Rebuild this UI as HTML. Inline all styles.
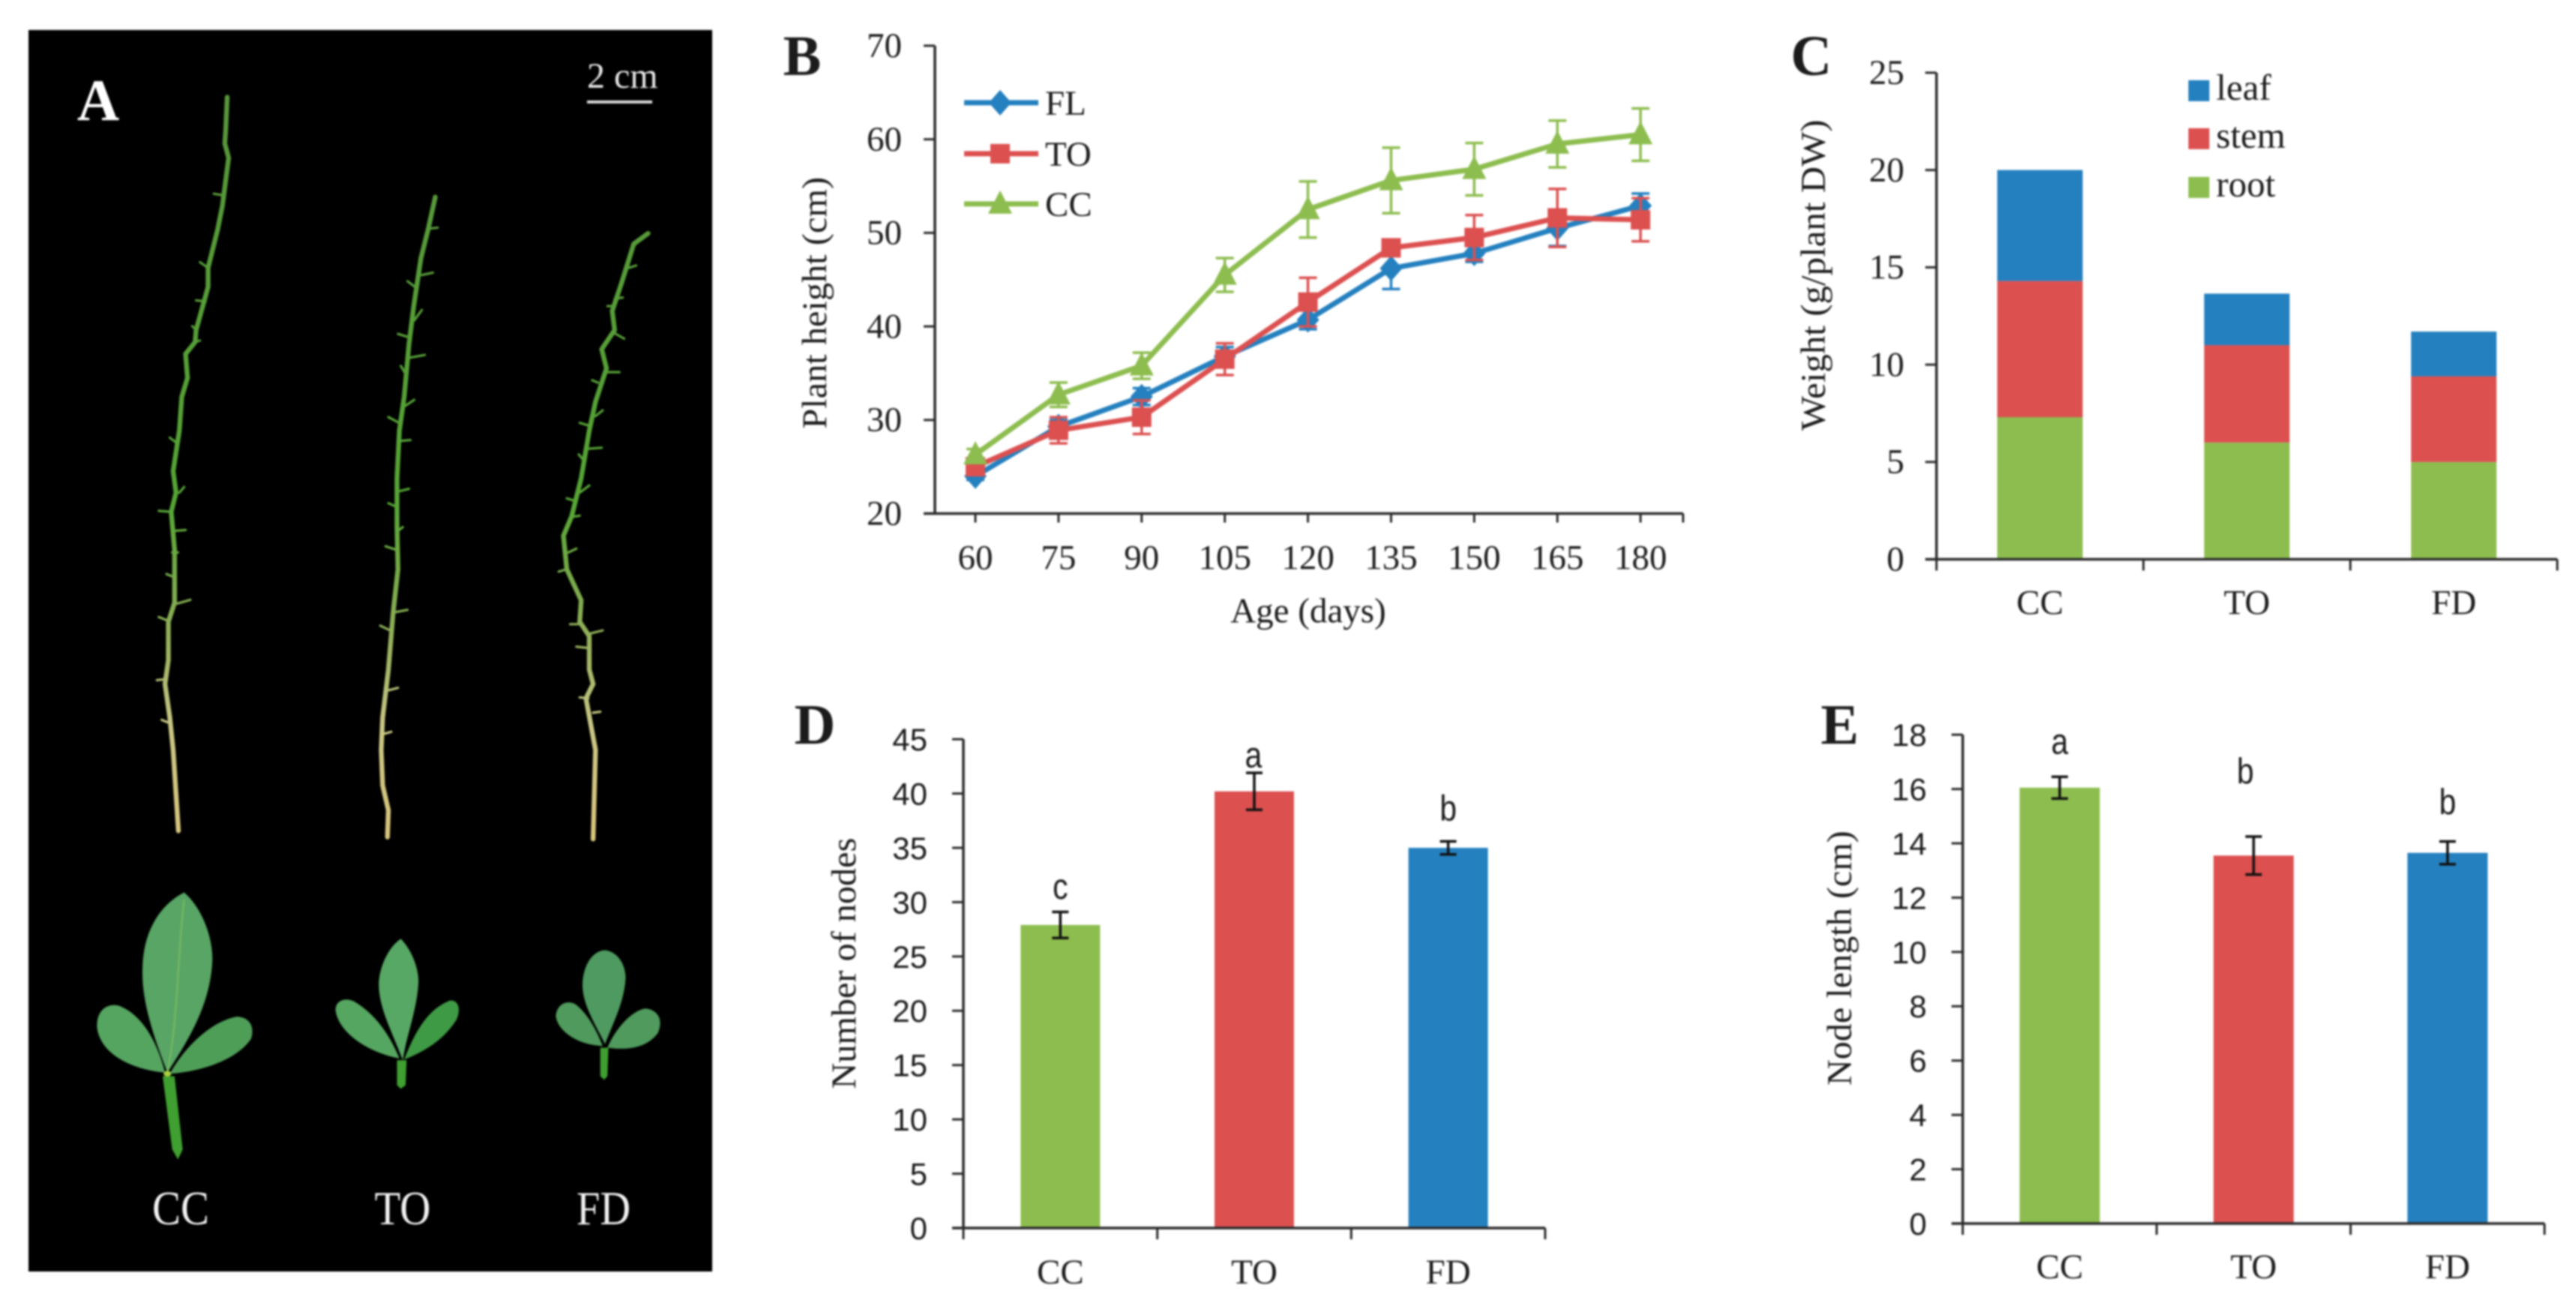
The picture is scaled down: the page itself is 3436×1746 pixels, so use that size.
<!DOCTYPE html>
<html lang="en">
<head>
<meta charset="utf-8">
<title>Plant phenotype figure</title>
<style>
  html, body { margin: 0; padding: 0; background: #fff; }
  svg { display: block; filter: blur(1.2px); }
  text { font-family: "Liberation Serif", serif; fill: #1c1c1c; }
  .sans { font-family: "Liberation Sans", sans-serif; }
</style>
</head>
<body>
<svg id="figure" xmlns="http://www.w3.org/2000/svg" width="3436" height="1746" viewBox="0 0 3436 1746">
  <defs>
    <linearGradient id="stemShade" gradientUnits="userSpaceOnUse" x1="0" y1="200" x2="0" y2="1750">
      <stop offset="0" stop-color="#58953c"/>
      <stop offset="0.55" stop-color="#55a535"/>
      <stop offset="0.72" stop-color="#8fae58"/>
      <stop offset="0.85" stop-color="#c9c685"/>
      <stop offset="1" stop-color="#d8c47c"/>
    </linearGradient>
  </defs>
  <rect width="3436" height="1746" fill="#fff"/>

  <g>
    <rect x="38" y="40" width="912" height="1656" fill="#000"/>
    <text x="131" y="160" font-size="78" font-weight="bold" text-anchor="middle" style="fill:#fff">A</text>
    <text x="783" y="117" font-size="48" style="fill:#e8e8e8">2 cm</text>
    <rect x="783" y="134" width="87" height="4" fill="#dcdcdc"/>

    <g transform="scale(0.638)" fill="none" stroke="url(#stemShade)" stroke-linejoin="round" stroke-linecap="round">
      <path stroke-width="10" d="M475,203 L472,270 L470,300 L478,330 L465,430 L455,480 L435,560 L435,600 L410,690 L408,715 L388,740 L392,790 L380,830 L375,900 L362,985 L368,1030 L358,1070 L365,1150 L365,1260 L352,1300 L352,1380 L345,1430 L355,1500 L362,1568 L373,1737"/>
      <path stroke-width="5" d="M465,408 L447,405 M435,560 L418,548 M430,630 L410,628 M410,690 L402,682 M408,715 L418,712 M368,925 L355,915 M375,1030 L385,1018 M358,1070 L332,1068 M363,1110 L388,1108 M360,1205 L348,1200 M370,1262 L398,1254 M352,1298 L332,1290 M345,1420 L328,1422 M350,1510 L338,1505 M360,1155 L372,1155"/>
      <path stroke-width="10" d="M910,412 L895,480 L880,540 L865,640 L855,720 L845,830 L835,900 L830,1000 L830,1100 L832,1190 L822,1280 L812,1400 L800,1500 L797,1568 L800,1642 L812,1694 L810,1750"/>
      <path stroke-width="5" d="M897,478 L915,476 M882,575 L905,570 M868,600 L852,588 M866,670 L882,648 M855,705 L832,698 M856,748 L888,742 M850,785 L838,765 M845,850 L866,836 M836,885 L812,872 M835,922 L858,920 M830,1028 L855,1022 M830,1060 L812,1052 M832,1110 L842,1102 M830,1150 L806,1142 M825,1280 L852,1275 M820,1320 L795,1308 M805,1445 L832,1438 M800,1535 L818,1530"/>
      <path stroke-width="10" d="M1355,488 L1325,510 L1300,590 L1280,650 L1285,690 L1258,730 L1268,770 L1245,840 L1232,900 L1215,1000 L1195,1080 L1178,1120 L1185,1190 L1215,1255 L1212,1300 L1232,1330 L1232,1400 L1240,1430 L1225,1460 L1245,1568 L1240,1754"/>
      <path stroke-width="5" d="M1315,560 L1330,555 M1285,625 L1302,622 M1280,640 L1270,640 M1282,695 L1305,708 M1265,778 L1295,778 M1250,800 L1238,795 M1245,870 L1260,858 M1232,890 L1212,884 M1232,938 L1258,936 M1222,965 L1210,950 M1212,1030 L1232,1015 M1205,1048 L1185,1042 M1200,1080 L1212,1078 M1188,1155 L1205,1147 M1185,1190 L1168,1195 M1215,1305 L1192,1305 M1232,1325 L1260,1318 M1232,1355 L1205,1352 M1230,1460 L1212,1458 M1240,1490 L1255,1488"/>
    </g>

    <g transform="translate(0,1000) scale(0.638,0.476)">
      <g>
        <path d="M340,915 L365,915 L382,1120 L372,1148 L360,1120 Z" fill="#3f9f30"/>
        <path d="M345,905 C270,895 210,850 203,780 C200,730 225,708 250,718 C300,745 330,825 345,905 Z" fill="#55a560"/>
        <path d="M355,908 C385,835 440,762 495,748 C525,750 532,780 525,810 C495,870 420,902 355,908 Z" fill="#4f9e58"/>
        <path d="M350,905 C320,800 295,700 298,610 C300,500 340,430 385,400 C420,440 445,520 444,590 C440,720 390,820 350,905 Z" fill="#58a565"/>
        <path d="M350,905 C372,760 372,560 385,420" stroke="#7cbc60" stroke-width="3" fill="none"/>
        <circle cx="350" cy="908" r="8" fill="#a8d040"/>
      </g>
      <g>
        <path d="M830,870 L850,870 L848,940 L838,950 L830,940 Z" fill="#3f9f30"/>
        <path d="M835,865 C775,850 712,800 702,735 C698,705 720,692 740,705 C785,740 815,800 835,865 Z" fill="#55a660"/>
        <path d="M845,868 C865,800 890,730 940,703 C958,700 964,725 955,755 C930,810 890,845 845,868 Z" fill="#3f9a45"/>
        <path d="M842,870 C820,790 790,720 792,650 C795,600 815,550 838,530 C860,560 875,610 875,650 C872,730 850,800 842,870 Z" fill="#58a865"/>
      </g>
      <g>
        <path d="M1255,835 L1272,835 L1270,915 L1263,925 L1255,915 Z" fill="#3f9f30"/>
        <path d="M1260,830 C1210,828 1165,790 1162,745 C1165,708 1190,700 1205,715 C1232,745 1248,790 1260,830 Z" fill="#4f9a5c"/>
        <path d="M1270,835 C1285,785 1320,730 1350,725 C1378,730 1387,760 1375,795 C1350,838 1310,842 1270,835 Z" fill="#4f9a5c"/>
        <path d="M1265,825 C1245,770 1215,710 1218,650 C1222,590 1245,562 1265,562 C1290,565 1308,600 1308,640 C1305,710 1280,770 1265,825 Z" fill="#4f9a60"/>
      </g>
    </g>

    <text x="241" y="1633" font-size="64" text-anchor="middle" textLength="76" lengthAdjust="spacingAndGlyphs" style="fill:#f2f2f2">CC</text>
    <text x="537" y="1633" font-size="64" text-anchor="middle" textLength="75" lengthAdjust="spacingAndGlyphs" style="fill:#f2f2f2">TO</text>
    <text x="805" y="1633" font-size="64" text-anchor="middle" textLength="72" lengthAdjust="spacingAndGlyphs" style="fill:#f2f2f2">FD</text>
  </g>

  <text x="1070" y="100" font-size="76" font-weight="bold" text-anchor="middle">B</text>
  <text x="2416" y="100" font-size="76" font-weight="bold" text-anchor="middle">C</text>
  <text x="1087" y="992" font-size="76" font-weight="bold" text-anchor="middle">D</text>
  <text x="2454" y="992" font-size="76" font-weight="bold" text-anchor="middle">E</text>

  <g id="chart-b"></g>
  <g id="chart-c"></g>
  <g id="chart-d"></g>
  <g id="chart-e"></g>
</svg>

<script>
// Panel B data
const ageLabels = [60, 75, 90, 105, 120, 135, 150, 165, 180];
const heightTicks = [20, 30, 40, 50, 60, 70];
const flHeights = [24.0, 29.3, 32.5, 36.8, 40.7, 46.2, 47.8, 50.5, 52.9];
const flErrors = [0.4, 0.7, 0.9, 1.0, 1.0, 2.2, 0.9, 1.9, 1.3];
const toHeights = [25.0, 28.9, 30.3, 36.5, 42.6, 48.4, 49.5, 51.6, 51.4];
const toErrors = [0.5, 1.4, 1.8, 1.7, 2.6, 0.7, 2.4, 3.1, 2.3];
const ccHeights = [26.3, 32.7, 35.8, 45.5, 52.5, 55.6, 56.8, 59.5, 60.5];
const ccErrors = [0.6, 1.3, 1.4, 1.8, 3.0, 3.5, 2.8, 2.5, 2.8];

// Panel C data
const treatments = ["CC", "TO", "FD"];
const weightTicks = [0, 5, 10, 15, 20, 25];
const rootWeights = [7.3, 6.0, 5.0];
const stemWeights = [7.0, 5.0, 4.4];
const leafWeights = [5.7, 2.65, 2.3];

// Panel D data
const nodeTicks = [0, 5, 10, 15, 20, 25, 30, 35, 40, 45];
const nodeCounts = [27.9, 40.2, 35.0];
const nodeErrors = [1.2, 1.7, 0.6];
const nodeLetters = ["c", "a", "b"];
const nodeLetterLift = [1.2, 0.5, 1.9];

// Panel E data
const lengthTicks = [0, 2, 4, 6, 8, 10, 12, 14, 16, 18];
const nodeLengths = [16.05, 13.55, 13.65];
const lengthErrors = [0.4, 0.7, 0.42];
const lengthLetters = ["a", "b", "b"];
const lengthLetterLift = [0.85, 1.95, 1.0];

const GREEN = "#8dbd4f";
const RED = "#dc5050";
const BLUE = "#2480bf";
const INK = "#2a2a2a";
const NS = "http://www.w3.org/2000/svg";

function mk(tag, attrs, parent, txt) {
  const el = document.createElementNS(NS, tag);
  for (const k in attrs) el.setAttribute(k, attrs[k]);
  if (txt !== undefined) el.textContent = txt;
  parent.appendChild(el);
  return el;
}
function linear(d0, d1, r0, r1) {
  return v => r0 + (v - d0) * (r1 - r0) / (d1 - d0);
}

function drawYAxis(g, y, ticks, axisX, top, bottom, labelRight, fontClass, fontSize, midOffset) {
  const line = mk("line", { x1: axisX, x2: axisX, y1: top, y2: bottom, stroke: INK, "stroke-width": 3.5 }, g);
  
  
  ticks.forEach(t => {
    const tick = mk("line", { x1: axisX - 15, x2: axisX, y1: y(t), y2: y(t), stroke: INK, "stroke-width": 3 }, g);
    
    
    const lab = mk("text", { x: labelRight, y: y(t) + midOffset, "text-anchor": "end", "font-size": fontSize, class: fontClass }, g, t);
    
    
  });
}

function drawYTitle(g, text, cx, cy, length) {
  const t = mk("text", { transform: "translate(" + cx + "," + cy + ") rotate(-90)", "text-anchor": "middle", "font-size": 47, textLength: length, lengthAdjust: "spacingAndGlyphs" }, g, text);
  
  
}

function drawBandXAxis(g, cats, left, right, axisY, labelY) {
  const step = (right - left) / cats.length;
  const base = mk("line", { x1: left - 15, x2: right, y1: axisY, y2: axisY, stroke: INK, "stroke-width": 3.5 }, g);
  
  
  for (let i = 0; i <= cats.length; i++) {
    const tick = mk("line", { x1: left + i * step, x2: left + i * step, y1: axisY, y2: axisY + 15, stroke: INK, "stroke-width": 3 }, g);
    
    
  }
  cats.forEach((c, i) => {
    const lab = mk("text", { x: left + (i + 0.5) * step, y: labelY, "text-anchor": "middle", "font-size": 47 }, g, c);
    
    
  });
  return i => left + (i + 0.5) * step;
}

/* ---------- Panel B ---------- */
(function () {
  const g = document.getElementById("chart-b");
  const left = 1247, right = 2245, axisY = 685, top = 61;
  const y = linear(20, 70, axisY, top);
  const x0 = 1301, xStep = 110.9;
  const x = i => x0 + i * xStep;

  drawYAxis(g, y, heightTicks, left, top, axisY, 1203, "", 47, 15);
  drawYTitle(g, "Plant height (cm)", 1102, 404, 336);

  const base = mk("line", { x1: left - 15, x2: right, y1: axisY, y2: axisY, stroke: INK, "stroke-width": 3.5 }, g);
  
  
  ageLabels.forEach((a, i) => {
    const tick = mk("line", { x1: x(i), x2: x(i), y1: axisY, y2: axisY + 12, stroke: INK, "stroke-width": 3 }, g);
    
    
    const lab = mk("text", { x: x(i), y: 759, "text-anchor": "middle", "font-size": 47 }, g, a);
    
    
  });
  const endTick = mk("line", { x1: right, x2: right, y1: axisY, y2: axisY + 12, stroke: INK, "stroke-width": 3 }, g);
  
  

  const title = mk("text", { x: 1745, y: 830, "text-anchor": "middle", "font-size": 47 }, g, "Age (days)");
  
  

  function marker(parent, kind, cx, cy, color) {
    if (kind === "diamond") {
      return mk("polygon", { points: [cx, cy - 17, cx + 15, cy, cx, cy + 17, cx - 15, cy].join(","), fill: color }, parent);
    }
    if (kind === "square") {
      return mk("rect", { x: cx - 13, y: cy - 13, width: 26, height: 26, fill: color }, parent);
    }
    return mk("polygon", { points: [cx, cy - 18, cx + 16, cy + 13, cx - 16, cy + 13].join(","), fill: color }, parent);
  }

  function series(name, values, errors, color, kind) {
    const sg = mk("g", {}, g);
    
    
    values.forEach((v, i) => {
      const hi = y(v + errors[i]), lo = y(v - errors[i]);
      const err = mk("path", { d: "M" + x(i) + "," + hi + "V" + lo + "M" + (x(i) - 12) + "," + hi + "h24M" + (x(i) - 12) + "," + lo + "h24", stroke: color, "stroke-width": 3.5, fill: "none" }, sg);
      
      
    });
    const pl = mk("polyline", { points: values.map((v, i) => x(i) + "," + y(v)).join(" "), fill: "none", stroke: color, "stroke-width": 7, "stroke-linejoin": "round" }, sg);
    
    
    values.forEach((v, i) => {
      const m = marker(sg, kind, x(i), y(v), color);
      
      
    });
  }
  series("fl", flHeights, flErrors, BLUE, "diamond");
  series("to", toHeights, toErrors, RED, "square");
  series("cc", ccHeights, ccErrors, GREEN, "triangle");

  function legend(name, label, color, kind, ly) {
    const lg = mk("g", {}, g);
    
    
    mk("line", { x1: 1286, x2: 1385, y1: ly, y2: ly, stroke: color, "stroke-width": 7 }, lg);
    marker(lg, kind, 1334, ly, color);
    mk("text", { x: 1394, y: ly + 16, "font-size": 47 }, lg, label);
  }
  legend("fl", "FL", BLUE, "diamond", 137);
  legend("to", "TO", RED, "square", 205);
  legend("cc", "CC", GREEN, "triangle", 272);
})();

/* ---------- Panel C ---------- */
(function () {
  const g = document.getElementById("chart-c");
  const left = 2583, right = 3411, axisY = 746, top = 97;
  const y = linear(0, 25, axisY, top);
  const barW = 114;

  const cx = (i) => left + (i + 0.5) * (right - left) / treatments.length;
  treatments.forEach((c, i) => {
    let acc = 0;
    [[rootWeights, GREEN, 'root'], [stemWeights, RED, 'stem'], [leafWeights, BLUE, 'leaf']].forEach(s => {
      const v = s[0][i];
      const r = mk("rect", { x: cx(i) - barW / 2, y: y(acc + v), width: barW, height: y(acc) - y(acc + v), fill: s[1] }, g);
      
      
      acc += v;
    });
  });
  drawYAxis(g, y, weightTicks, left, top, axisY, 2540, "", 47, 15);
  drawYTitle(g, "Weight (g/plant DW)", 2434, 367, 415);
  drawBandXAxis(g, treatments, left, right, axisY, 819);

  function legend(name, color, ly) {
    const lg = mk("g", {}, g);
    
    
    mk("rect", { x: 2919, y: ly, width: 28, height: 28, fill: color }, lg);
    mk("text", { x: 2956, y: ly + 26, "font-size": 49 }, lg, name);
  }
  legend("leaf", BLUE, 107);
  legend("stem", RED, 171);
  legend("root", GREEN, 236);
})();

/* ---------- Panels D and E ---------- */
function drawBars(id, opt, cats, values, errors, letters, lifts, ticks, colors) {
  const g = document.getElementById(id);
  const y = linear(0, ticks[ticks.length - 1], opt.axisY, opt.top);
  const cx = i => opt.left + (i + 0.5) * (opt.right - opt.left) / cats.length;
  values.forEach((v, i) => {
    const r = mk("rect", { x: cx(i) - opt.barW / 2, y: y(v), width: opt.barW, height: opt.axisY - y(v), fill: colors[i] }, g);
    
    
    const ex = cx(i) + opt.errShift;
    const hi = y(v + errors[i]), lo = y(v - errors[i]);
    const e = mk("path", { d: "M" + ex + "," + hi + "V" + lo + "M" + (ex - 11) + "," + hi + "h22M" + (ex - 11) + "," + lo + "h22", stroke: "#111", "stroke-width": 3.5, fill: "none" }, g);
    
    
    const lx = cx(i) + opt.letterShift[i], ly = y(v + errors[i] + lifts[i]);
    const l = mk("text", { transform: "translate(" + lx + "," + ly + ") scale(0.85,1)", "text-anchor": "middle", "font-size": 48, class: "sans" }, g, letters[i]);
    
    
  });
  drawYAxis(g, y, ticks, opt.left, opt.top, opt.axisY, opt.labelRight, "sans", 42, 15);
  drawYTitle(g, opt.title, opt.titleX, opt.titleY, opt.titleLen);
  drawBandXAxis(g, cats, opt.left, opt.right, opt.axisY, opt.xLabelY);
}

drawBars("chart-d", { left: 1285, right: 2061, axisY: 1638, top: 986, barW: 106, errShift: 0, letterShift: [0, -1, 0], labelRight: 1237, title: "Number of nodes", titleX: 1141, titleY: 1285, titleLen: 335, xLabelY: 1712 },
  treatments, nodeCounts, nodeErrors, nodeLetters, nodeLetterLift, nodeTicks, [GREEN, RED, BLUE]);

drawBars("chart-e", { left: 2618, right: 3394, axisY: 1632, top: 980, barW: 107, errShift: 0, letterShift: [0, -11, 0], labelRight: 2570, title: "Node length (cm)", titleX: 2469, titleY: 1278, titleLen: 340, xLabelY: 1705 },
  treatments, nodeLengths, lengthErrors, lengthLetters, lengthLetterLift, lengthTicks, [GREEN, RED, BLUE]);
</script>
</body>
</html>
